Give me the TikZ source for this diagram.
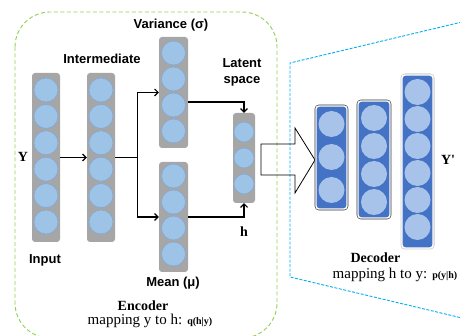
\documentclass[tikz,border=0pt]{standalone}
\usepackage{fontspec}
\setmainfont{Liberation Serif}
\setsansfont{Liberation Sans}
\usetikzlibrary{arrows.meta}

\definecolor{layergray}{HTML}{A6A6A6}
\definecolor{cellblue}{HTML}{9DC3E6}
\definecolor{celledge}{HTML}{7FA7DA}
\definecolor{declblue}{HTML}{4472C4}
\definecolor{declcell}{HTML}{A7C3EA}
\definecolor{encgreen}{HTML}{92D050}
\definecolor{decline}{HTML}{00B0F0}

\tikzset{
  layer/.style={fill=layergray, rounded corners=3pt, inner sep=0pt},
  decl/.style={fill=declblue, draw=white, line width=1.4pt, rounded corners=3pt, inner sep=0pt},
  cell/.style={circle, fill=cellblue, draw=celledge, line width=0.5pt, inner sep=0pt},
  dcell/.style={circle, fill=declcell, inner sep=0pt, minimum size=26pt},
  lbl/.style={font=\sffamily\bfseries\fontsize{13}{16}\selectfont, align=center},
  symb/.style={font=\bfseries\fontsize{14}{16}\selectfont},
  title/.style={font=\bfseries\fontsize{14}{16}\selectfont, inner sep=0pt},
  maptext/.style={font=\fontsize{15}{17}\selectfont, inner sep=0pt},
  flow/.style={line width=1.1pt, -{Straight Barb[length=3.5pt,width=7pt]}},
}
\newcommand{\condp}[1]{{\bfseries\fontsize{10}{12}\selectfont #1}}

\begin{document}
\begin{tikzpicture}[x=1pt,y=-1pt]
  \useasboundingbox (0,0) rectangle (460,336);

  % frames
  \draw[encgreen, dash pattern=on 4pt off 2.5pt, line width=0.9pt, rounded corners=35pt] (15,12) rectangle (277,338);
  \draw[decline, dash pattern=on 3pt off 1.5pt, line width=0.9pt] (462,22) -- (290,63) -- (290,277) -- (462,318);

  % encoder
  \node[layer, minimum width=28pt, minimum height=169pt] (input) at (46,157.5) {};
  \foreach \i in {0,...,5}
    \node[cell, minimum size=24pt] (input-\i) at (46,{90+26.4*\i}) {};
  \node[layer, minimum width=28pt, minimum height=169pt] (inter) at (101,157.5) {};
  \foreach \i in {0,...,5}
    \node[cell, minimum size=24pt] (inter-\i) at (101,{90+26.4*\i}) {};
  \node[layer, minimum width=29pt, minimum height=111pt] (var) at (173.5,92.5) {};
  \foreach \i in {0,...,3}
    \node[cell, minimum size=24pt] (var-\i) at (173.5,{53+26*\i}) {};
  \node[layer, minimum width=29pt, minimum height=110pt] (mean) at (173.5,217) {};
  \foreach \i in {0,...,3}
    \node[cell, minimum size=24pt] (mean-\i) at (173.5,{176+26*\i}) {};
  \node[layer, minimum width=22pt, minimum height=90pt] (latent) at (244,158) {};
  \foreach \i in {0,...,2}
    \node[cell, minimum size=20pt] (latent-\i) at (244,{132+26*\i}) {};

  \draw[flow] (input) -- (inter);
  \draw[line width=1.1pt] (inter.east) -- ++(22,0) coordinate (split);
  \draw[flow] (split) |- (var.west);
  \draw[flow] (split) |- (mean.west);
  \draw[flow] ([yshift=-9.5pt]var.east) -| (latent.north);
  \draw[flow] (mean.east) -| (latent.south);

  % hollow arrow into the decoder
  \draw[line width=0.8pt] (261,144) -- (295,144) -- (295,128) -- (315,160)
    -- (295,193) -- (295,175) -- (261,175) -- cycle;

  % decoder
  \node[decl, minimum width=31pt, minimum height=103pt,
        preaction={draw=black!80, line width=2.6pt}] (dec1) at (331.5,157.5) {};
  \foreach \i in {0,...,2}
    \node[dcell] (dec1-\i) at (331.5,{124+33*\i}) {};
  \node[decl, minimum width=32pt, minimum height=117pt,
        preaction={draw=black!80, line width=2.6pt}] (dec2) at (374,159.5) {};
  \foreach \i in {0,...,3}
    \node[dcell] (dec2-\i) at (374,{118+28*\i}) {};
  \node[decl, minimum width=31pt, minimum height=173pt,
        preaction={draw=black!20, line width=3pt}] (dec3) at (417.5,161.5) {};
  \foreach \i in {0,...,5}
    \node[dcell] (dec3-\i) at (417.5,{92+27*\i}) {};

  % labels
  \node[lbl] (varlbl) at (171,25) {Variance (σ)};
  \node[lbl] (interlbl) at (102,59) {Intermediate};
  \node[lbl] (inputlbl) at (45,260) {Input};
  \node[lbl] (meanlbl) at (173,283) {Mean (μ)};
  \node[lbl] (latentlbl) at (242,72) {Latent\\space};
  \node[symb] (ylbl) at (23,157) {Y};
  \node[symb] (hlbl) at (244,232) {h};
  \node[symb] (yplbl) at (448,160) {Y\textquotesingle};

  \node[title] (enclbl) at (143,306) {Encoder};
  \node[maptext] (encmap) at (150,321) {mapping y to h: \condp{q(h|y)}};
  \node[title] (declbl) at (375.5,258) {Decoder};
  \node[maptext] (decmap) at (395,275) {mapping h to y: \condp{p(y|h)}};
\end{tikzpicture}
\end{document}
